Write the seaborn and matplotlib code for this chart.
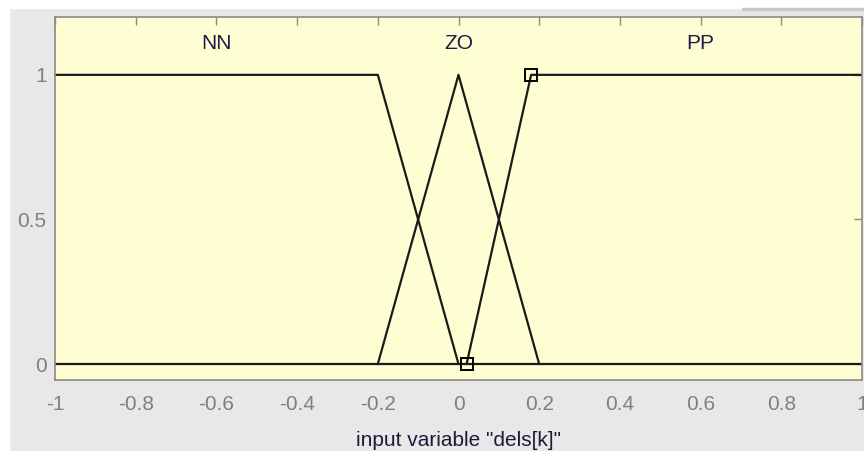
import numpy as np
import pandas as pd
import matplotlib
matplotlib.use("Agg")
import matplotlib.pyplot as plt
import seaborn as sns
from matplotlib.patches import Rectangle

# membership functions of input variable "dels[k]"
mf_names = ["NN", "ZO", "PP"]
nn_x = [-1.0, -0.2, 0.0]
nn_y = [1.0, 1.0, 0.0]
zo_x = [-0.2, 0.0, 0.2]
zo_y = [0.0, 1.0, 0.0]
pp_x = [0.02, 0.18, 1.0]
pp_y = [0.0, 1.0, 1.0]
label_x = [-0.6, 0.0, 0.6]
label_y = [1.11, 1.11, 1.11]
# selected vertices (squares)
marker_x = [0.02, 0.18]
marker_y = [0.0, 1.0]
x_ticks = [-1, -0.8, -0.6, -0.4, -0.2, 0, 0.2, 0.4, 0.6, 0.8, 1]
x_ticklabels = ["-1", "-0.8", "-0.6", "-0.4", "-0.2", "0", "0.2", "0.4", "0.6", "0.8", "1"]
y_ticks = [0, 0.5, 1]
y_ticklabels = ["0", "0.5", "1"]

sns.set_style("white")
plt.rcParams['font.family'] = ['Liberation Sans', 'DejaVu Sans']

fig = plt.figure(figsize=(8.64, 4.51), dpi=100)
fig.patch.set_facecolor('#e8e8e8')
# white strips along top and left edges of the screenshot
fig.add_artist(Rectangle((0, 0), 9 / 864, 1, transform=fig.transFigure, color='white', zorder=0))
fig.add_artist(Rectangle((0, 1 - 8 / 451), 1, 8 / 451, transform=fig.transFigure, color='white', zorder=0))
fig.add_artist(Rectangle((742 / 864, 1 - 10 / 451), 122 / 864, 2.5 / 451,
                         transform=fig.transFigure, color='#c8c8c8', zorder=1))

ax = fig.add_axes([55 / 864, 1 - 380 / 451, 807 / 864, 363 / 451])
ax.set_facecolor('#fffdd2')

line_kw = dict(color='#1a1a1a', linewidth=1.6, legend=False, sort=False, estimator=None)
for xs, ys in [(nn_x, nn_y), (zo_x, zo_y), (pp_x, pp_y)]:
    sns.lineplot(x=xs, y=ys, ax=ax, **line_kw)
# the y=0 baseline
sns.lineplot(x=[-1, 1], y=[0, 0], ax=ax, **line_kw)

ax.plot(marker_x, marker_y, linestyle='none', marker='s', markersize=8,
        markerfacecolor='none', markeredgecolor='black', markeredgewidth=1.4, zorder=5)

for name, lx, ly in zip(mf_names, label_x, label_y):
    ax.text(lx, ly, name, ha='center', va='center', fontsize=15, color='#1c1c4a')

ax.set_xlim(-1, 1)
ax.set_ylim(-0.055, 1.2)
ax.set_xticks(x_ticks)
ax.set_xticklabels(x_ticklabels)
ax.set_yticks(y_ticks)
ax.set_yticklabels(y_ticklabels)
ax.tick_params(axis='x', direction='in', length=6, width=1, color='#8a8a8a',
               labelcolor='#7f7f8c', labelsize=15, pad=11, top=True)
ax.tick_params(axis='y', direction='in', length=6, width=1, color='#8a8a8a',
               labelcolor='#7f7f8c', labelsize=15, pad=6, right=True)
for sp in ax.spines.values():
    sp.set_color('#8a8a8a')
    sp.set_linewidth(1.2)

ax.set_xlabel('input variable "dels[k]"', fontsize=15, color='#1c1c3a', labelpad=12)
ax.set_ylabel('')

fig.savefig('out.png', dpi=100, facecolor=fig.get_facecolor())
